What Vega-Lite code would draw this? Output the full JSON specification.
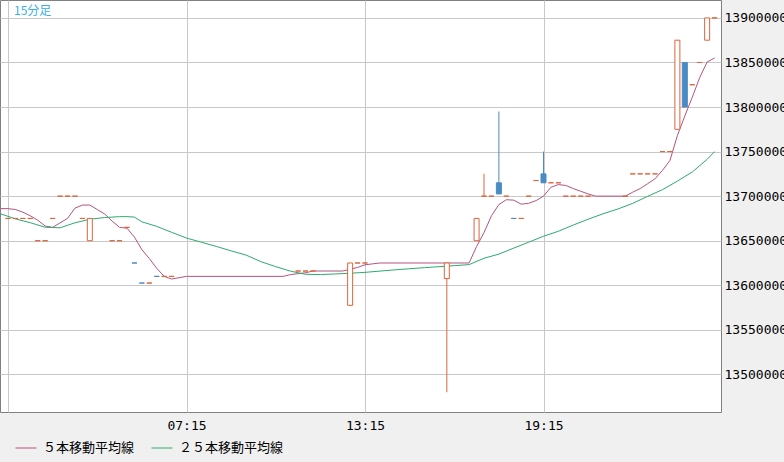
{
  "$schema": "https://vega.github.io/schema/vega-lite/v6.json",
  "width": 721,
  "height": 412,
  "autosize": "none",
  "padding": {"left": 0, "top": 0, "right": 63, "bottom": 50},
  "background": "#f0f0f0",
  "title": {
    "text": "15分足",
    "anchor": "start",
    "frame": "group",
    "offset": -18,
    "dx": 14,
    "font": "Noto Sans CJK JP",
    "fontSize": 12,
    "fontWeight": "normal",
    "color": "#3ab0e8"
  },
  "datasets": {
    "candles": [
      {"t": "2024-05-10T01:15", "open": 13675000, "high": 13675000, "low": 13675000, "close": 13675000, "dir": "up"},
      {"t": "2024-05-10T01:30", "open": 13675000, "high": 13675000, "low": 13675000, "close": 13675000, "dir": "up"},
      {"t": "2024-05-10T01:45", "open": 13675000, "high": 13675000, "low": 13675000, "close": 13675000, "dir": "up"},
      {"t": "2024-05-10T02:00", "open": 13675000, "high": 13675000, "low": 13675000, "close": 13675000, "dir": "up"},
      {"t": "2024-05-10T02:15", "open": 13650000, "high": 13650000, "low": 13650000, "close": 13650000, "dir": "up"},
      {"t": "2024-05-10T02:30", "open": 13650000, "high": 13650000, "low": 13650000, "close": 13650000, "dir": "up"},
      {"t": "2024-05-10T02:45", "open": 13675000, "high": 13675000, "low": 13675000, "close": 13675000, "dir": "up"},
      {"t": "2024-05-10T03:00", "open": 13700000, "high": 13700000, "low": 13700000, "close": 13700000, "dir": "up"},
      {"t": "2024-05-10T03:15", "open": 13700000, "high": 13700000, "low": 13700000, "close": 13700000, "dir": "up"},
      {"t": "2024-05-10T03:30", "open": 13700000, "high": 13700000, "low": 13700000, "close": 13700000, "dir": "up"},
      {"t": "2024-05-10T03:45", "open": 13675000, "high": 13675000, "low": 13675000, "close": 13675000, "dir": "up"},
      {"t": "2024-05-10T04:00", "open": 13650000, "high": 13675000, "low": 13650000, "close": 13675000, "dir": "up"},
      {"t": "2024-05-10T04:45", "open": 13650000, "high": 13650000, "low": 13650000, "close": 13650000, "dir": "up"},
      {"t": "2024-05-10T05:00", "open": 13650000, "high": 13650000, "low": 13650000, "close": 13650000, "dir": "up"},
      {"t": "2024-05-10T05:15", "open": 13665000, "high": 13665000, "low": 13665000, "close": 13665000, "dir": "up"},
      {"t": "2024-05-10T05:30", "open": 13625000, "high": 13625000, "low": 13625000, "close": 13625000, "dir": "down"},
      {"t": "2024-05-10T05:45", "open": 13602500, "high": 13602500, "low": 13602500, "close": 13602500, "dir": "down"},
      {"t": "2024-05-10T06:00", "open": 13602500, "high": 13602500, "low": 13602500, "close": 13602500, "dir": "up"},
      {"t": "2024-05-10T06:15", "open": 13610000, "high": 13610000, "low": 13610000, "close": 13610000, "dir": "down"},
      {"t": "2024-05-10T06:30", "open": 13610000, "high": 13610000, "low": 13610000, "close": 13610000, "dir": "up"},
      {"t": "2024-05-10T06:45", "open": 13610000, "high": 13610000, "low": 13610000, "close": 13610000, "dir": "up"},
      {"t": "2024-05-10T11:00", "open": 13616000, "high": 13616000, "low": 13616000, "close": 13616000, "dir": "up"},
      {"t": "2024-05-10T11:15", "open": 13616000, "high": 13616000, "low": 13616000, "close": 13616000, "dir": "up"},
      {"t": "2024-05-10T11:30", "open": 13616000, "high": 13616000, "low": 13616000, "close": 13616000, "dir": "up"},
      {"t": "2024-05-10T12:45", "open": 13577500, "high": 13625000, "low": 13577500, "close": 13625000, "dir": "up"},
      {"t": "2024-05-10T13:00", "open": 13625000, "high": 13625000, "low": 13625000, "close": 13625000, "dir": "up"},
      {"t": "2024-05-10T13:15", "open": 13625000, "high": 13625000, "low": 13625000, "close": 13625000, "dir": "up"},
      {"t": "2024-05-10T16:00", "open": 13607500, "high": 13625000, "low": 13480000, "close": 13625000, "dir": "up"},
      {"t": "2024-05-10T17:00", "open": 13650000, "high": 13675000, "low": 13650000, "close": 13675000, "dir": "up"},
      {"t": "2024-05-10T17:15", "open": 13700000, "high": 13725000, "low": 13700000, "close": 13700000, "dir": "up"},
      {"t": "2024-05-10T17:30", "open": 13700000, "high": 13700000, "low": 13700000, "close": 13700000, "dir": "up"},
      {"t": "2024-05-10T17:45", "open": 13715000, "high": 13795000, "low": 13702500, "close": 13702500, "dir": "down"},
      {"t": "2024-05-10T18:00", "open": 13700000, "high": 13700000, "low": 13700000, "close": 13700000, "dir": "up"},
      {"t": "2024-05-10T18:15", "open": 13675000, "high": 13675000, "low": 13675000, "close": 13675000, "dir": "down"},
      {"t": "2024-05-10T18:30", "open": 13675000, "high": 13675000, "low": 13675000, "close": 13675000, "dir": "up"},
      {"t": "2024-05-10T18:45", "open": 13700000, "high": 13700000, "low": 13700000, "close": 13700000, "dir": "up"},
      {"t": "2024-05-10T19:00", "open": 13717500, "high": 13717500, "low": 13717500, "close": 13717500, "dir": "up"},
      {"t": "2024-05-10T19:15", "open": 13725000, "high": 13750000, "low": 13715000, "close": 13715000, "dir": "down"},
      {"t": "2024-05-10T19:30", "open": 13715000, "high": 13715000, "low": 13715000, "close": 13715000, "dir": "up"},
      {"t": "2024-05-10T19:45", "open": 13715000, "high": 13715000, "low": 13715000, "close": 13715000, "dir": "up"},
      {"t": "2024-05-10T20:00", "open": 13700000, "high": 13700000, "low": 13700000, "close": 13700000, "dir": "up"},
      {"t": "2024-05-10T20:15", "open": 13700000, "high": 13700000, "low": 13700000, "close": 13700000, "dir": "up"},
      {"t": "2024-05-10T20:30", "open": 13700000, "high": 13700000, "low": 13700000, "close": 13700000, "dir": "up"},
      {"t": "2024-05-10T20:45", "open": 13700000, "high": 13700000, "low": 13700000, "close": 13700000, "dir": "up"},
      {"t": "2024-05-10T22:00", "open": 13700000, "high": 13700000, "low": 13700000, "close": 13700000, "dir": "up"},
      {"t": "2024-05-10T22:15", "open": 13725000, "high": 13725000, "low": 13725000, "close": 13725000, "dir": "up"},
      {"t": "2024-05-10T22:30", "open": 13725000, "high": 13725000, "low": 13725000, "close": 13725000, "dir": "up"},
      {"t": "2024-05-10T22:45", "open": 13725000, "high": 13725000, "low": 13725000, "close": 13725000, "dir": "up"},
      {"t": "2024-05-10T23:00", "open": 13725000, "high": 13725000, "low": 13725000, "close": 13725000, "dir": "up"},
      {"t": "2024-05-10T23:15", "open": 13750000, "high": 13750000, "low": 13750000, "close": 13750000, "dir": "up"},
      {"t": "2024-05-10T23:30", "open": 13750000, "high": 13750000, "low": 13750000, "close": 13750000, "dir": "up"},
      {"t": "2024-05-10T23:45", "open": 13775000, "high": 13875000, "low": 13775000, "close": 13875000, "dir": "up"},
      {"t": "2024-05-11T00:00", "open": 13850000, "high": 13850000, "low": 13800000, "close": 13800000, "dir": "down"},
      {"t": "2024-05-11T00:15", "open": 13825000, "high": 13825000, "low": 13825000, "close": 13825000, "dir": "up"},
      {"t": "2024-05-11T00:30", "open": 13850000, "high": 13850000, "low": 13850000, "close": 13850000, "dir": "up"},
      {"t": "2024-05-11T00:45", "open": 13875000, "high": 13900000, "low": 13875000, "close": 13900000, "dir": "up"},
      {"t": "2024-05-11T01:00", "open": 13900000, "high": 13900000, "low": 13900000, "close": 13900000, "dir": "up"}
    ],
    "ma": [
      {"t": "2024-05-10T01:00", "ma": 13686000, "s": "５本移動平均線"},
      {"t": "2024-05-10T01:15", "ma": 13686000, "s": "５本移動平均線"},
      {"t": "2024-05-10T01:30", "ma": 13685000, "s": "５本移動平均線"},
      {"t": "2024-05-10T01:45", "ma": 13682000, "s": "５本移動平均線"},
      {"t": "2024-05-10T02:00", "ma": 13678000, "s": "５本移動平均線"},
      {"t": "2024-05-10T02:15", "ma": 13673000, "s": "５本移動平均線"},
      {"t": "2024-05-10T02:30", "ma": 13666500, "s": "５本移動平均線"},
      {"t": "2024-05-10T02:45", "ma": 13665000, "s": "５本移動平均線"},
      {"t": "2024-05-10T03:00", "ma": 13670000, "s": "５本移動平均線"},
      {"t": "2024-05-10T03:15", "ma": 13675000, "s": "５本移動平均線"},
      {"t": "2024-05-10T03:30", "ma": 13686500, "s": "５本移動平均線"},
      {"t": "2024-05-10T03:45", "ma": 13690000, "s": "５本移動平均線"},
      {"t": "2024-05-10T04:00", "ma": 13690000, "s": "５本移動平均線"},
      {"t": "2024-05-10T04:15", "ma": 13685000, "s": "５本移動平均線"},
      {"t": "2024-05-10T04:30", "ma": 13680000, "s": "５本移動平均線"},
      {"t": "2024-05-10T04:45", "ma": 13672000, "s": "５本移動平均線"},
      {"t": "2024-05-10T05:00", "ma": 13665000, "s": "５本移動平均線"},
      {"t": "2024-05-10T05:15", "ma": 13664000, "s": "５本移動平均線"},
      {"t": "2024-05-10T05:30", "ma": 13654000, "s": "５本移動平均線"},
      {"t": "2024-05-10T05:45", "ma": 13640000, "s": "５本移動平均線"},
      {"t": "2024-05-10T06:00", "ma": 13630000, "s": "５本移動平均線"},
      {"t": "2024-05-10T06:15", "ma": 13619000, "s": "５本移動平均線"},
      {"t": "2024-05-10T06:30", "ma": 13610000, "s": "５本移動平均線"},
      {"t": "2024-05-10T06:45", "ma": 13607000, "s": "５本移動平均線"},
      {"t": "2024-05-10T07:00", "ma": 13608500, "s": "５本移動平均線"},
      {"t": "2024-05-10T07:15", "ma": 13610000, "s": "５本移動平均線"},
      {"t": "2024-05-10T10:30", "ma": 13610000, "s": "５本移動平均線"},
      {"t": "2024-05-10T10:45", "ma": 13612000, "s": "５本移動平均線"},
      {"t": "2024-05-10T11:00", "ma": 13613000, "s": "５本移動平均線"},
      {"t": "2024-05-10T11:15", "ma": 13614000, "s": "５本移動平均線"},
      {"t": "2024-05-10T11:30", "ma": 13616000, "s": "５本移動平均線"},
      {"t": "2024-05-10T12:30", "ma": 13616000, "s": "５本移動平均線"},
      {"t": "2024-05-10T12:45", "ma": 13618000, "s": "５本移動平均線"},
      {"t": "2024-05-10T13:00", "ma": 13620000, "s": "５本移動平均線"},
      {"t": "2024-05-10T13:15", "ma": 13623000, "s": "５本移動平均線"},
      {"t": "2024-05-10T13:30", "ma": 13624000, "s": "５本移動平均線"},
      {"t": "2024-05-10T13:45", "ma": 13625000, "s": "５本移動平均線"},
      {"t": "2024-05-10T16:45", "ma": 13625000, "s": "５本移動平均線"},
      {"t": "2024-05-10T17:00", "ma": 13643500, "s": "５本移動平均線"},
      {"t": "2024-05-10T17:15", "ma": 13659000, "s": "５本移動平均線"},
      {"t": "2024-05-10T17:30", "ma": 13678000, "s": "５本移動平均線"},
      {"t": "2024-05-10T17:45", "ma": 13690500, "s": "５本移動平均線"},
      {"t": "2024-05-10T18:00", "ma": 13696000, "s": "５本移動平均線"},
      {"t": "2024-05-10T18:15", "ma": 13695500, "s": "５本移動平均線"},
      {"t": "2024-05-10T18:30", "ma": 13691000, "s": "５本移動平均線"},
      {"t": "2024-05-10T18:45", "ma": 13692000, "s": "５本移動平均線"},
      {"t": "2024-05-10T19:00", "ma": 13695000, "s": "５本移動平均線"},
      {"t": "2024-05-10T19:15", "ma": 13700000, "s": "５本移動平均線"},
      {"t": "2024-05-10T19:30", "ma": 13710000, "s": "５本移動平均線"},
      {"t": "2024-05-10T19:45", "ma": 13713000, "s": "５本移動平均線"},
      {"t": "2024-05-10T20:00", "ma": 13712000, "s": "５本移動平均線"},
      {"t": "2024-05-10T20:15", "ma": 13708500, "s": "５本移動平均線"},
      {"t": "2024-05-10T20:30", "ma": 13705500, "s": "５本移動平均線"},
      {"t": "2024-05-10T20:45", "ma": 13702500, "s": "５本移動平均線"},
      {"t": "2024-05-10T21:00", "ma": 13700000, "s": "５本移動平均線"},
      {"t": "2024-05-10T22:00", "ma": 13700000, "s": "５本移動平均線"},
      {"t": "2024-05-10T22:15", "ma": 13704500, "s": "５本移動平均線"},
      {"t": "2024-05-10T22:30", "ma": 13708500, "s": "５本移動平均線"},
      {"t": "2024-05-10T22:45", "ma": 13714000, "s": "５本移動平均線"},
      {"t": "2024-05-10T23:00", "ma": 13719500, "s": "５本移動平均線"},
      {"t": "2024-05-10T23:15", "ma": 13729000, "s": "５本移動平均線"},
      {"t": "2024-05-10T23:30", "ma": 13740000, "s": "５本移動平均線"},
      {"t": "2024-05-10T23:45", "ma": 13768000, "s": "５本移動平均線"},
      {"t": "2024-05-11T00:00", "ma": 13790000, "s": "５本移動平均線"},
      {"t": "2024-05-11T00:15", "ma": 13811000, "s": "５本移動平均線"},
      {"t": "2024-05-11T00:30", "ma": 13833000, "s": "５本移動平均線"},
      {"t": "2024-05-11T00:45", "ma": 13850500, "s": "５本移動平均線"},
      {"t": "2024-05-11T01:00", "ma": 13855000, "s": "５本移動平均線"},
      {"t": "2024-05-10T01:00", "ma": 13680200, "s": "２５本移動平均線"},
      {"t": "2024-05-10T01:30", "ma": 13674500, "s": "２５本移動平均線"},
      {"t": "2024-05-10T02:00", "ma": 13670200, "s": "２５本移動平均線"},
      {"t": "2024-05-10T02:30", "ma": 13665100, "s": "２５本移動平均線"},
      {"t": "2024-05-10T03:00", "ma": 13664500, "s": "２５本移動平均線"},
      {"t": "2024-05-10T03:30", "ma": 13670100, "s": "２５本移動平均線"},
      {"t": "2024-05-10T04:00", "ma": 13674100, "s": "２５本移動平均線"},
      {"t": "2024-05-10T04:30", "ma": 13676000, "s": "２５本移動平均線"},
      {"t": "2024-05-10T05:00", "ma": 13677000, "s": "２５本移動平均線"},
      {"t": "2024-05-10T05:15", "ma": 13677000, "s": "２５本移動平均線"},
      {"t": "2024-05-10T05:30", "ma": 13676500, "s": "２５本移動平均線"},
      {"t": "2024-05-10T05:45", "ma": 13671200, "s": "２５本移動平均線"},
      {"t": "2024-05-10T06:15", "ma": 13666100, "s": "２５本移動平均線"},
      {"t": "2024-05-10T06:45", "ma": 13659400, "s": "２５本移動平均線"},
      {"t": "2024-05-10T07:15", "ma": 13653000, "s": "２５本移動平均線"},
      {"t": "2024-05-10T07:45", "ma": 13648300, "s": "２５本移動平均線"},
      {"t": "2024-05-10T08:15", "ma": 13643600, "s": "２５本移動平均線"},
      {"t": "2024-05-10T08:45", "ma": 13638600, "s": "２５本移動平均線"},
      {"t": "2024-05-10T09:15", "ma": 13633900, "s": "２５本移動平均線"},
      {"t": "2024-05-10T09:45", "ma": 13626500, "s": "２５本移動平均線"},
      {"t": "2024-05-10T10:15", "ma": 13620900, "s": "２５本移動平均線"},
      {"t": "2024-05-10T10:45", "ma": 13615800, "s": "２５本移動平均線"},
      {"t": "2024-05-10T11:15", "ma": 13612300, "s": "２５本移動平均線"},
      {"t": "2024-05-10T11:45", "ma": 13612000, "s": "２５本移動平均線"},
      {"t": "2024-05-10T12:15", "ma": 13612700, "s": "２５本移動平均線"},
      {"t": "2024-05-10T12:45", "ma": 13613500, "s": "２５本移動平均線"},
      {"t": "2024-05-10T13:15", "ma": 13614500, "s": "２５本移動平均線"},
      {"t": "2024-05-10T14:15", "ma": 13617300, "s": "２５本移動平均線"},
      {"t": "2024-05-10T15:15", "ma": 13619800, "s": "２５本移動平均線"},
      {"t": "2024-05-10T16:15", "ma": 13622000, "s": "２５本移動平均線"},
      {"t": "2024-05-10T16:45", "ma": 13623200, "s": "２５本移動平均線"},
      {"t": "2024-05-10T17:15", "ma": 13630300, "s": "２５本移動平均線"},
      {"t": "2024-05-10T17:45", "ma": 13635000, "s": "２５本移動平均線"},
      {"t": "2024-05-10T18:15", "ma": 13641700, "s": "２５本移動平均線"},
      {"t": "2024-05-10T18:45", "ma": 13648300, "s": "２５本移動平均線"},
      {"t": "2024-05-10T19:15", "ma": 13655000, "s": "２５本移動平均線"},
      {"t": "2024-05-10T19:45", "ma": 13660600, "s": "２５本移動平均線"},
      {"t": "2024-05-10T20:15", "ma": 13667600, "s": "２５本移動平均線"},
      {"t": "2024-05-10T20:45", "ma": 13674100, "s": "２５本移動平均線"},
      {"t": "2024-05-10T21:15", "ma": 13680200, "s": "２５本移動平均線"},
      {"t": "2024-05-10T21:45", "ma": 13685600, "s": "２５本移動平均線"},
      {"t": "2024-05-10T22:15", "ma": 13691900, "s": "２５本移動平均線"},
      {"t": "2024-05-10T22:45", "ma": 13699800, "s": "２５本移動平均線"},
      {"t": "2024-05-10T23:15", "ma": 13707300, "s": "２５本移動平均線"},
      {"t": "2024-05-10T23:45", "ma": 13716900, "s": "２５本移動平均線"},
      {"t": "2024-05-11T00:15", "ma": 13727100, "s": "２５本移動平均線"},
      {"t": "2024-05-11T00:45", "ma": 13741300, "s": "２５本移動平均線"},
      {"t": "2024-05-11T01:00", "ma": 13750000, "s": "２５本移動平均線"}
    ]
  },
  "encoding": {
    "x": {
      "field": "t",
      "type": "temporal",
      "title": null,
      "scale": {
        "nice": false,
        "padding": 0,
        "domain": [
          {"year": 2024, "month": 5, "date": 10, "hours": 0, "minutes": 58, "seconds": 52},
          {"year": 2024, "month": 5, "date": 11, "hours": 1, "minutes": 12, "seconds": 58}
        ]
      },
      "axis": {
        "values": [
          {"year": 2024, "month": 5, "date": 10, "hours": 1, "minutes": 15},
          {"year": 2024, "month": 5, "date": 10, "hours": 7, "minutes": 15},
          {"year": 2024, "month": 5, "date": 10, "hours": 13, "minutes": 15},
          {"year": 2024, "month": 5, "date": 10, "hours": 19, "minutes": 15}
        ],
        "labelExpr": "hours(datum.value) == 1 ? '' : timeFormat(datum.value, '%H:%M')",
        "labelPadding": 7,
        "labelFlush": false
      }
    }
  },
  "layer": [
    {
      "data": {"name": "ma"},
      "mark": {"type": "line", "strokeWidth": 1, "clip": true},
      "encoding": {
        "y": {
          "field": "ma",
          "type": "quantitative",
          "title": null,
          "scale": {"domain": [13457800, 13920100], "nice": false, "zero": false, "padding": 0},
          "axis": {
            "orient": "right",
            "values": [13500000, 13550000, 13600000, 13650000, 13700000, 13750000, 13800000, 13850000, 13900000],
            "format": "d",
            "labelPadding": 3
          }
        },
        "color": {
          "field": "s",
          "type": "nominal",
          "scale": {
            "domain": ["５本移動平均線", "２５本移動平均線"],
            "range": ["#b4537f", "#2eaa6e"]
          },
          "legend": {"title": null}
        }
      }
    },
    {
      "data": {"name": "candles"},
      "mark": {"type": "rule", "strokeWidth": 1},
      "encoding": {
        "y": {
          "field": "low",
          "type": "quantitative",
          "title": null,
          "axis": {
            "orient": "right",
            "values": [13500000, 13550000, 13600000, 13650000, 13700000, 13750000, 13800000, 13850000, 13900000],
            "format": "d",
            "labelPadding": 3
          }
        },
        "y2": {"field": "high"},
        "stroke": {
          "field": "dir",
          "type": "nominal",
          "scale": {"domain": ["up", "down"], "range": ["#e0643c", "#4b8bc3"]},
          "legend": null
        }
      }
    },
    {
      "data": {"name": "candles"},
      "mark": {"type": "bar", "size": 5, "strokeWidth": 1},
      "encoding": {
        "y": {
          "field": "open",
          "type": "quantitative",
          "title": null,
          "axis": {
            "orient": "right",
            "values": [13500000, 13550000, 13600000, 13650000, 13700000, 13750000, 13800000, 13850000, 13900000],
            "format": "d",
            "labelPadding": 3
          }
        },
        "y2": {"field": "close"},
        "stroke": {
          "field": "dir",
          "type": "nominal",
          "scale": {"domain": ["up", "down"], "range": ["#e0643c", "#4b8bc3"]},
          "legend": null
        },
        "fill": {
          "field": "dir",
          "type": "nominal",
          "scale": {"domain": ["up", "down"], "range": ["#ffffff", "#4b8bc3"]},
          "legend": null
        }
      }
    }
  ],
  "config": {
    "view": {"fill": "#ffffff", "stroke": "#808080", "strokeWidth": 1},
    "axis": {
      "grid": true,
      "gridColor": "#c8c8c8",
      "gridWidth": 1,
      "domain": false,
      "ticks": false,
      "labelFont": "DejaVu Sans Mono",
      "labelFontSize": 13,
      "labelColor": "#000000",
      "labelOverlap": false
    },
    "legend": {
      "orient": "none",
      "legendX": 15,
      "legendY": 437,
      "direction": "horizontal",
      "symbolType": "stroke",
      "symbolSize": 441,
      "symbolStrokeWidth": 1,
      "labelFont": "Noto Sans CJK JP",
      "labelFontSize": 13,
      "labelColor": "#000000",
      "labelOffset": 6,
      "columnPadding": 14,
      "padding": 0
    }
  }
}
